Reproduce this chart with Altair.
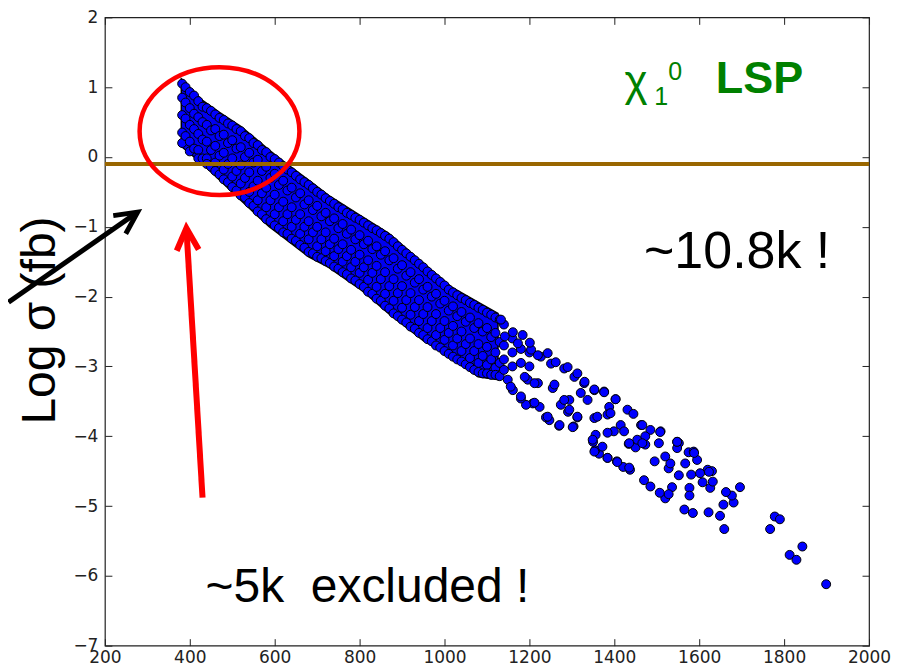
import altair as alt
import pandas as pd

# ---------------- data ----------------
x_ticks = [200, 400, 600, 800, 1000, 1200, 1400, 1600, 1800, 2000]
y_ticks = [-7, -6, -5, -4, -3, -2, -1, 0, 1, 2]

# envelope of the dense part of the band
band_x = [380, 430, 470, 520, 587, 622, 680, 727, 805, 868, 950, 1016, 1079, 1126]
band_upper = [1.12, 0.81, 0.64, 0.44, 0.10, -0.07, -0.33, -0.55, -0.85, -1.09, -1.52, -1.86, -2.08, -2.24]
band_lower = [0.15, -0.10, -0.33, -0.62, -1.00, -1.16, -1.43, -1.58, -1.91, -2.24, -2.63, -2.86, -3.15, -3.19]

# points inside the dense band (mass column -> log sigma values)
dense_cols = {
    382: [1.05, 0.85, 0.60, 0.35, 0.20],
    390: [1.00, 0.78, 0.55, 0.30], 400: [0.93, 0.70, 0.46, 0.22, 0.08],
    410: [0.88, 0.62, 0.40, 0.12], 420: [0.80, 0.57, 0.33, 0.10, -0.02],
    430: [0.72, 0.50, 0.25, -0.02], 440: [0.70, 0.46, 0.22, -0.02, -0.10],
    450: [0.66, 0.38, 0.10, -0.14], 460: [0.61, 0.40, 0.16, -0.08, -0.20],
    470: [0.56, 0.30, 0.02, -0.25], 480: [0.53, 0.32, 0.06, -0.18, -0.32],
    490: [0.48, 0.20, -0.10, -0.36], 500: [0.45, 0.24, -0.02, -0.28, -0.43],
    510: [0.40, 0.12, -0.20, -0.48], 520: [0.37, 0.14, -0.12, -0.38, -0.55],
    530: [0.30, 0.00, -0.30, -0.58], 540: [0.27, 0.06, -0.22, -0.50, -0.66],
    550: [0.20, -0.08, -0.42, -0.70], 560: [0.17, -0.04, -0.34, -0.62, -0.78],
    570: [0.10, -0.20, -0.52, -0.82], 580: [0.07, -0.14, -0.44, -0.72, -0.89],
    590: [0.00, -0.30, -0.62, -0.92], 600: [-0.03, -0.24, -0.54, -0.82, -0.98],
    610: [-0.08, -0.40, -0.72, -1.02], 620: [-0.13, -0.34, -0.64, -0.92, -1.08],
    630: [-0.18, -0.48, -0.82, -1.10], 640: [-0.22, -0.44, -0.72, -1.00, -1.17],
    650: [-0.27, -0.58, -0.90, -1.20], 660: [-0.32, -0.52, -0.82, -1.10, -1.26],
    670: [-0.36, -0.68, -1.00, -1.30], 680: [-0.40, -0.62, -0.92, -1.18, -1.36],
    690: [-0.45, -0.76, -1.08, -1.38], 700: [-0.50, -0.70, -1.00, -1.28, -1.43],
    710: [-0.54, -0.85, -1.18, -1.45], 720: [-0.59, -0.80, -1.08, -1.35, -1.49],
    730: [-0.63, -0.92, -1.25, -1.52], 740: [-0.67, -0.88, -1.17, -1.42, -1.57],
    750: [-0.72, -1.02, -1.32, -1.60], 760: [-0.75, -0.96, -1.25, -1.50, -1.65],
    770: [-0.80, -1.10, -1.42, -1.68], 780: [-0.83, -1.04, -1.33, -1.58, -1.74],
    790: [-0.87, -1.18, -1.50, -1.77], 800: [-0.90, -1.12, -1.40, -1.66, -1.82],
    810: [-0.94, -1.25, -1.58, -1.86], 820: [-0.98, -1.20, -1.48, -1.76, -1.93],
    830: [-1.02, -1.32, -1.66, -1.96], 840: [-1.05, -1.28, -1.56, -1.86, -2.03],
    850: [-1.09, -1.40, -1.75, -2.06], 860: [-1.13, -1.35, -1.65, -1.96, -2.13],
    870: [-1.17, -1.48, -1.85, -2.17], 880: [-1.22, -1.45, -1.75, -2.06, -2.24],
    890: [-1.28, -1.60, -1.95, -2.28], 900: [-1.33, -1.55, -1.85, -2.16, -2.33],
    910: [-1.38, -1.70, -2.05, -2.37], 920: [-1.43, -1.65, -1.95, -2.26, -2.43],
    930: [-1.48, -1.80, -2.15, -2.46], 940: [-1.53, -1.75, -2.05, -2.35, -2.52],
    950: [-1.58, -1.90, -2.25, -2.55], 960: [-1.64, -1.86, -2.15, -2.45, -2.61],
    970: [-1.69, -2.00, -2.35, -2.64], 980: [-1.74, -1.96, -2.25, -2.55, -2.70],
    990: [-1.79, -2.10, -2.45, -2.73], 1000: [-1.84, -2.06, -2.35, -2.62, -2.78],
    1010: [-1.90, -2.20, -2.52, -2.82], 1020: [-1.94, -2.14, -2.42, -2.70, -2.86],
    1030: [-1.98, -2.28, -2.60, -2.90], 1040: [-2.02, -2.22, -2.50, -2.78, -2.93],
    1050: [-2.05, -2.36, -2.68, -2.97], 1060: [-2.09, -2.30, -2.60, -2.88, -3.01],
    1070: [-2.12, -2.45, -2.78, -3.05], 1080: [-2.16, -2.38, -2.68, -2.95, -3.08],
    1090: [-2.19, -2.50, -2.85, -3.10], 1100: [-2.23, -2.45, -2.72, -2.98, -3.10],
    1110: [-2.26, -2.58, -2.90, -3.12], 1120: [-2.30, -2.52, -2.80, -3.02, -3.12],
    1130: [-2.33, -2.65, -2.95, -3.14],
    1140: [-2.40, -2.70, -2.90, -3.05], 1160: [-2.60, -2.80, -3.00],
    1180: [-2.75, -2.95], 1200: [-2.80, -3.00],
}

# sparser tail of the band
tail_x = [1899, 1813, 1829, 1843, 1767, 1778, 1790, 1659, 1649, 1622, 1585, 1565,
          1657, 1681, 1677, 1663, 1696, 1626, 1577, 1577, 1632, 1620, 1630, 1602,
          1608, 1581, 1552, 1536, 1520, 1528, 1507, 1485, 1470, 1437, 1421, 1406,
          1384, 1364, 1355, 1372, 1350, 1356, 1434, 1450, 1473, 1495, 1505, 1528,
          1532, 1552, 1548, 1520, 1575, 1587, 1595, 1567, 1548,
          1304, 1270, 1247, 1313, 1291, 1239, 1224, 1208, 1192, 1180, 1161, 1431,
          1445, 1403, 1376, 1353, 1388, 1384, 1353, 1415, 1463, 1485, 1509, 1454,
          1473, 1399, 1423, 1321, 1294, 1274, 1329, 1306, 1282, 1251, 1227, 1204,
          1173, 1142, 1255, 1220, 1196, 1149,
          1133, 1161, 1184, 1201, 1220, 1243, 1262, 1290, 1313, 1330, 1353, 1376,
          1403, 1466, 1508, 1548, 1588, 1623, 1156, 1180, 1212, 1243, 1271, 1302,
          1313, 1189, 1212, 1259, 1282, 1294, 1349, 1353, 1384, 1407, 1435, 1435,
          1466, 1384, 1360, 1391, 1337]
tail_y = [-6.12, -5.70, -5.77, -5.58, -5.33, -5.15, -5.19, -5.33, -5.14, -5.09, -5.10, -5.05,
          -4.98, -4.95, -4.85, -4.80, -4.73, -4.74, -4.74, -4.85, -4.65, -4.48, -4.50, -4.53,
          -4.66, -4.55, -4.56, -4.73, -4.89, -4.83, -4.81, -4.72, -4.63, -4.48, -4.44, -4.36,
          -4.31, -4.25, -4.20, -4.15, -4.08, -3.98, -4.11, -4.16, -4.12, -4.36, -4.10, -4.46,
          -4.39, -4.10, -4.17, -4.29, -4.23, -4.22, -4.34, -4.39, -4.08,
          -3.86, -3.85, -3.77, -3.73, -3.65, -3.73, -3.58, -3.53, -3.55, -3.46, -3.34, -3.62,
          -3.68, -3.47, -3.36, -3.34, -3.58, -3.69, -3.74, -3.84, -3.84, -3.91, -3.93, -4.05,
          -4.00, -3.93, -3.93, -3.38, -3.48, -3.55, -3.24, -3.15, -3.03, -2.96, -2.86, -2.76,
          -2.67, -2.57, -3.31, -3.24, -3.19, -3.19,
          -2.33, -2.51, -2.55, -2.66, -2.84, -2.81, -2.94, -3.01, -3.10, -3.22, -3.33, -3.37,
          -3.47, -3.84, -3.94, -4.08, -4.24, -4.51, -3.29, -3.43, -3.52, -3.72, -3.84, -3.87,
          -3.72, -3.15, -3.24, -3.26, -3.48, -3.62, -4.05, -4.22, -4.31, -4.37, -4.45, -4.10,
          -4.10, -3.95, -3.72, -3.67, -3.48]

limit_y = [-0.1]                      # horizontal limit line

# annotations (data coordinates)
ellipse_x, ellipse_y = [470], [0.37]
red_arrow = {"x": [430], "y": [-4.88], "x2": [392], "y2": [-1.02], "ang": [356.6]}
black_arrow = {"x": [-27], "y": [-2.08], "x2": [277], "y2": [-0.79], "ang": [55.3]}
black_texts = {"x": [1470, 437], "y": [-1.59, -6.38],
               "t": ["~10.8k !", "~5k\u00a0 excluded !"], "fs": [52, 48]}
green_texts = {"x": [1424, 1494, 1527], "y": [0.88, 0.74, 1.10], "t": ["χ", "1", "0"], "fs": [44, 25, 25]}
green_bold = {"x": [1639], "y": [0.91], "t": ["LSP"], "fs": [45]}

# ---------------- build frames ----------------
band_df = pd.DataFrame({"x": band_x, "up": band_upper, "lo": band_lower})
px, py = [], []
for cx, vals in dense_cols.items():
    for v in vals:
        px.append(cx)
        py.append(v)
pts_df = pd.DataFrame({"x": px + tail_x, "y": py + tail_y})

xs = alt.Scale(domain=[200, 2000], nice=False, zero=False)
ys_ = alt.Scale(domain=[-7, 2], nice=False, zero=False)

TICK = "#222222"
x_axis = alt.Axis(values=x_ticks, offset=-7, tickSize=7, domain=False, grid=False,
                  labelFont="DejaVu Sans", labelFontSize=17, labelColor=TICK,
                  labelPadding=4, tickColor=TICK, tickWidth=1, title="",
                  labelFlush=False, labelOverlap=False, format="d")
y_axis = alt.Axis(values=y_ticks, offset=-7, tickSize=7, domain=False, grid=False,
                  labelFont="DejaVu Sans", labelFontSize=17, labelColor=TICK,
                  labelPadding=7, tickColor=TICK, tickWidth=1,
                  labelFlush=False, labelOverlap=False, format="d",
                  title="Log σ (fb)", titleFont="Liberation Sans", titleFontSize=48,
                  titleFontWeight="normal", titleColor="#000000", titleAngle=270,
                  titleAlign="center", titleBaseline="alphabetic", titleX=-57, titleY=303)
x_top = alt.Axis(orient="top", values=x_ticks, offset=-7, tickSize=7, domain=False,
                 grid=False, labels=False, tickColor=TICK, tickWidth=1, title="")
y_right = alt.Axis(orient="right", values=y_ticks, offset=-7, tickSize=7, domain=False,
                   grid=False, labels=False, tickColor=TICK, tickWidth=1, title="")

band = alt.Chart(band_df).mark_area(color="#0000f0", stroke="#000000", strokeWidth=1.5,
                                    opacity=1).encode(
    x=alt.X("x:Q", scale=xs, axis=x_axis),
    y=alt.Y("up:Q", scale=ys_, axis=y_axis),
    y2="lo:Q",
)

points = alt.Chart(pts_df).mark_circle(color="#0000ff", stroke="#000000", strokeWidth=1,
                                       size=80, opacity=1).encode(
    x=alt.X("x:Q", scale=xs, axis=None),
    y=alt.Y("y:Q", scale=ys_, axis=None),
)

hline = alt.Chart(pd.DataFrame({"y": limit_y})).mark_rule(color="#996600", strokeWidth=4).encode(
    y=alt.Y("y:Q", scale=ys_, axis=None)
)

ELLIPSE = "M -1 0 A 1 0.8 0 1 1 1 0 A 1 0.8 0 1 1 -1 0 Z"
ellipse = alt.Chart(pd.DataFrame({"x": ellipse_x, "y": ellipse_y})).mark_point(
    shape=ELLIPSE, filled=False, stroke="#ff0000", strokeWidth=4.5, size=25600, opacity=1
).encode(
    x=alt.X("x:Q", scale=xs, axis=x_top),
    y=alt.Y("y:Q", scale=ys_, axis=y_right),
)

CHEVRON = "M -0.5 1 L 0 0 L 0.5 1"


def arrow(d, color, width):
    df = pd.DataFrame(d)
    shaft = alt.Chart(df).mark_rule(color=color, strokeWidth=width, strokeCap="butt").encode(
        x=alt.X("x:Q", scale=xs, axis=None),
        y=alt.Y("y:Q", scale=ys_, axis=None),
        x2="x2:Q",
        y2="y2:Q",
    )
    head = alt.Chart(df).mark_point(
        shape=CHEVRON, filled=False, stroke=color, strokeWidth=width, size=1936,
        strokeJoin="miter", strokeCap="butt", opacity=1
    ).encode(
        x=alt.X("x2:Q", scale=xs, axis=None),
        y=alt.Y("y2:Q", scale=ys_, axis=None),
        angle=alt.Angle("ang:Q", scale=None),
    )
    return shaft + head


red = arrow(red_arrow, "#ff0000", 6)
black = arrow(black_arrow, "#000000", 5)


def texts(d, color, weight):
    return alt.Chart(pd.DataFrame(d)).mark_text(
        align="left", baseline="alphabetic", font="Liberation Sans",
        fontWeight=weight, color=color
    ).encode(
        x=alt.X("x:Q", scale=xs, axis=None),
        y=alt.Y("y:Q", scale=ys_, axis=None),
        text="t:N",
        size=alt.Size("fs:Q", scale=None),
    )


t_black = texts(black_texts, "#000000", "normal")
t_green = texts(green_texts, "#008000", "normal")
t_green_b = texts(green_bold, "#008000", "bold")

chart = alt.layer(
    band, points, hline, ellipse, red, black, t_black, t_green, t_green_b
).resolve_axis(x="independent", y="independent").properties(
    width=765, height=629,
    autosize=alt.AutoSizeParams(type="none"),
    padding={"left": 97, "top": 9, "right": 22, "bottom": 25},
    background="#ffffff",
).configure_view(stroke="#222222", strokeWidth=1.2)

chart.save("out.html", embed_options={"renderer": "svg", "actions": False})
